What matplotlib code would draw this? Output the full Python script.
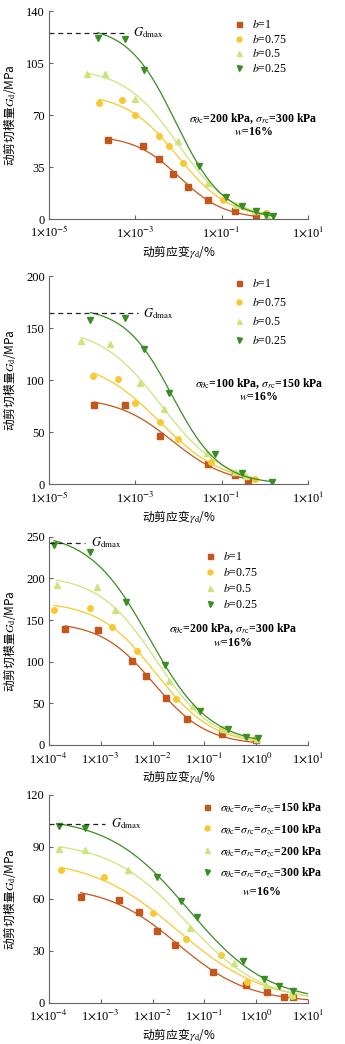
import numpy as np
import matplotlib
matplotlib.use("Agg")
import matplotlib.pyplot as plt

plt.rcParams["font.family"] = ["Liberation Serif", "Noto Sans CJK SC"]
plt.rcParams["mathtext.fontset"] = "stix"
plt.rcParams["font.size"] = 8.5

# ---- panel 1: sigma_theta=200, sigma_r=300 kPa, varying b ----
p1_b1_x = [10**-3.64, 10**-2.83, 10**-2.45, 10**-2.13, 10**-1.77, 10**-1.31, 10**-0.70, 10**-0.20]
p1_b1_g = [53.0, 49.3, 40.5, 30.2, 21.5, 13.0, 5.6, 2.5]
p1_b075_x = [10**-3.84, 10**-3.32, 10**-3.00, 10**-2.46, 10**-2.22, 10**-1.90, 10**-0.96, 10**0.02]
p1_b075_g = [78.4, 80.0, 70.3, 55.8, 49.0, 38.0, 12.8, 4.3]
p1_b05_x = [10**-4.11, 10**-3.70, 10**-3.00, 10**-2.02, 10**-1.31, 10**-0.67, 10**-0.22, 10**0.05]
p1_b05_g = [97.7, 97.7, 80.9, 52.4, 24.2, 9.6, 5.4, 3.0]
p1_b025_x = [10**-3.87, 10**-3.23, 10**-2.80, 10**-1.53, 10**-0.89, 10**-0.54, 10**-0.20, 10**0.03, 10**0.19]
p1_b025_g = [121.9, 121.2, 100.6, 35.8, 15.0, 9.0, 5.2, 2.5, 2.0]

# ---- panel 2: sigma_theta=100, sigma_r=150 kPa, varying b ----
p2_b1_x = [10**-3.96, 10**-3.25, 10**-2.42, 10**-1.32, 10**-0.69, 10**-0.39]
p2_b1_g = [76.2, 76.2, 46.7, 19.5, 8.6, 4.2]
p2_b075_x = [10**-3.97, 10**-3.40, 10**-3.00, 10**-2.42, 10**-2.01, 10**-1.25, 10**-0.23]
p2_b075_g = [104.0, 100.8, 78.0, 59.5, 43.2, 21.1, 5.4]
p2_b05_x = [10**-4.25, 10**-3.58, 10**-2.89, 10**-2.34, 10**-1.35, 10**-0.69, 10**-0.43]
p2_b05_g = [137.3, 134.7, 96.9, 72.6, 30.4, 11.8, 8.3]
p2_b025_x = [10**-4.04, 10**-3.23, 10**-2.80, 10**-2.23, 10**-1.16, 10**-0.53, 10**0.17]
p2_b025_g = [157.8, 159.4, 129.6, 87.4, 28.8, 11.2, 1.9]

# ---- panel 3: sigma_theta=200, sigma_r=300 kPa, varying b ----
p3_b1_x = [10**-3.69, 10**-3.05, 10**-2.39, 10**-2.13, 10**-1.74, 10**-1.33, 10**-0.67, 10**-0.01]
p3_b1_g = [139.2, 138.0, 100.4, 82.4, 56.4, 31.6, 13.6, 6.4]
p3_b075_x = [10**-3.90, 10**-3.21, 10**-2.78, 10**-2.31, 10**-1.54, 10**-0.67, 10**0.00]
p3_b075_g = [162.0, 164.0, 141.2, 113.2, 55.6, 19.2, 8.0]
p3_b05_x = [10**-3.85, 10**-3.08, 10**-2.73, 10**-1.69, 10**-1.22, 10**-0.65, 10**0.02]
p3_b05_g = [192.0, 189.2, 162.0, 77.2, 46.8, 19.2, 7.2]
p3_b025_x = [10**-3.90, 10**-3.21, 10**-2.52, 10**-1.76, 10**-1.08, 10**-0.54, 10**-0.19, 10**0.04]
p3_b025_g = [239.6, 232.0, 171.6, 96.0, 41.2, 19.2, 9.6, 8.0]

# ---- panel 4: isotropic consolidation, varying confining stress ----
p4_s150_x = [10**-3.39, 10**-2.64, 10**-2.26, 10**-1.91, 10**-1.56, 10**-0.84, 10**-0.20, 10**0.20, 10**0.54, 10**0.70]
p4_s150_g = [61.3, 59.3, 52.4, 41.6, 33.3, 17.9, 10.2, 6.0, 3.3, 3.1]
p4_s100_x = [10**-3.77, 10**-2.93, 10**-2.00, 10**-1.36, 10**-0.68, 10**-0.18, 10**0.69]
p4_s100_g = [76.7, 72.8, 52.0, 36.6, 27.4, 11.8, 3.9]
p4_s200_x = [10**-3.81, 10**-3.30, 10**-2.47, 10**-1.28, 10**-0.43, 10**0.18, 10**0.69]
p4_s200_g = [88.8, 88.0, 76.7, 43.4, 23.1, 10.2, 4.4]
p4_s300_x = [10**-3.81, 10**-3.30, 10**-1.92, 10**-1.45, 10**-1.15, 10**-0.26, 10**0.15, 10**0.44, 10**0.70]
p4_s300_g = [102.1, 101.1, 72.8, 59.0, 49.5, 23.9, 13.7, 9.4, 6.5]

b_labels = [r"$b$=1", r"$b$=0.75", r"$b$=0.5", r"$b$=0.25"]
s_labels = [r"$\sigma_{\theta\mathrm{c}}$=$\sigma_{r\mathrm{c}}$=$\sigma_{z\mathrm{c}}$=150 kPa",
            r"$\sigma_{\theta\mathrm{c}}$=$\sigma_{r\mathrm{c}}$=$\sigma_{z\mathrm{c}}$=100 kPa",
            r"$\sigma_{\theta\mathrm{c}}$=$\sigma_{r\mathrm{c}}$=$\sigma_{z\mathrm{c}}$=200 kPa",
            r"$\sigma_{\theta\mathrm{c}}$=$\sigma_{r\mathrm{c}}$=$\sigma_{z\mathrm{c}}$=300 kPa"]
gdmax = [125.2, 164.2, 242.8, 103.2]

colors = ["#C4561C", "#F7C832", "#CBE57C", "#3A8C24"]
markers = ["s", "o", "^", "v"]


def fit_hd(x, g):
    # brute-force Hardin-Drnevich type fit G = Gmax / (1 + (x/xr)^n)
    lx = np.log10(np.asarray(x))
    g = np.asarray(g)
    gm = np.linspace(g.max() * 0.95, g.max() * 1.3, 60)[:, None, None, None]
    lr = np.linspace(-4.5, 0.5, 120)[None, :, None, None]
    n = np.linspace(0.3, 1.6, 60)[None, None, :, None]
    pred = gm / (1 + 10 ** (n * (lx - lr)))
    sse = ((pred - g) ** 2).sum(axis=-1)
    i, j, k = np.unravel_index(np.argmin(sse), sse.shape)
    return gm.ravel()[i], lr.ravel()[j], n.ravel()[k]


def draw_panel(ax, series, labels, x_end=None):
    for (x, g), lab, c, m in zip(series, labels, colors, markers):
        gm, lr, n = fit_hd(x, g)
        xe = x_end if x_end else max(x)
        xs = np.logspace(np.log10(min(x)), np.log10(xe), 200)
        ax.plot(xs, gm / (1 + (xs / 10**lr) ** n), color=c, lw=0.9)
        ax.plot(x, g, m, color=c, ms=4, mec=c, ls="none", label=lab)


def style_axis(ax, xmin, ymax, ystep):
    ax.set_xscale("log")
    ax.set_xlim(xmin, 10)
    ax.set_ylim(0, ymax)
    decades = np.arange(int(np.log10(xmin)), 2, 2 if xmin < 1e-4 else 1)
    ax.set_xticks(10.0 ** decades)
    ax.set_xticklabels([r"1$\times$10$^{%d}$" % d for d in decades])
    ax.xaxis.set_minor_locator(matplotlib.ticker.NullLocator())
    ax.set_yticks(np.arange(0, ymax + 1, ystep))
    for s in ["top", "right"]:
        ax.spines[s].set_visible(False)
    for s in ["left", "bottom"]:
        ax.spines[s].set_color("#666666")
        ax.spines[s].set_linewidth(0.8)
    ax.tick_params(direction="in", length=3, width=0.8, color="#666666", labelsize=9)
    ax.tick_params(axis="x", pad=4)
    ax.tick_params(axis="y", pad=3)
    ax.set_ylabel(r"动剪切模量$G_{\mathrm{d}}$/MPa", fontsize=8.5, labelpad=6,
                  fontfamily="Noto Sans CJK SC")
    ax.set_xlabel(r"动剪应变$\gamma_{\mathrm{d}}$/%", fontsize=8.5, labelpad=2,
                  fontfamily="Noto Sans CJK SC")


def gdmax_line(ax, xmin, x_stop, value):
    ax.plot([xmin, x_stop], [value, value], ls="--", color="#222222", lw=0.9, dashes=(4, 3))
    ax.text(x_stop * 1.3, value, r"$G_{\mathrm{dmax}}$", fontsize=9, va="center", ha="left")


def add_legend(ax, x0, y0, spacing, bold=False):
    prop = {"size": 8.5, "weight": "bold" if bold else "normal"}
    ax.legend(loc="upper left", bbox_to_anchor=(x0, y0), frameon=False, prop=prop,
              borderpad=0, borderaxespad=0, handlelength=1.0, handletextpad=0.6,
              labelspacing=spacing, markerscale=0.9)


fig = plt.figure(figsize=(3.45, 10.44), dpi=100)
rects = [[0.142, 0.7902, 0.751, 0.1992],
         [0.142, 0.5361, 0.751, 0.1995],
         [0.142, 0.2864, 0.751, 0.1995],
         [0.142, 0.0396, 0.751, 0.1990]]
axes = [fig.add_axes(r) for r in rects]

# panel 1
ax = axes[0]
draw_panel(ax, [(p1_b1_x, p1_b1_g), (p1_b075_x, p1_b075_g),
                (p1_b05_x, p1_b05_g), (p1_b025_x, p1_b025_g)], b_labels)
style_axis(ax, 1e-5, 140, 35)
gdmax_line(ax, 1e-5, 10**-3.17, gdmax[0])
add_legend(ax, 0.71, 0.962, 0.23)
ax.text(0.79, 0.485, r"$\sigma_{\theta\mathrm{c}}$=200 kPa, $\sigma_{r\mathrm{c}}$=300 kPa",
        transform=ax.transAxes, ha="center", va="center", fontsize=8.5, fontweight="bold")
ax.text(0.79, 0.42, r"$w$=16%", transform=ax.transAxes, ha="center", va="center",
        fontsize=8.5, fontweight="bold")

# panel 2
ax = axes[1]
draw_panel(ax, [(p2_b1_x, p2_b1_g), (p2_b075_x, p2_b075_g),
                (p2_b05_x, p2_b05_g), (p2_b025_x, p2_b025_g)], b_labels)
style_axis(ax, 1e-5, 200, 50)
gdmax_line(ax, 1e-5, 10**-2.93, gdmax[1])
add_legend(ax, 0.71, 0.99, 0.58)
ax.text(0.81, 0.485, r"$\sigma_{\theta\mathrm{c}}$=100 kPa, $\sigma_{r\mathrm{c}}$=150 kPa",
        transform=ax.transAxes, ha="center", va="center", fontsize=8.5, fontweight="bold")
ax.text(0.81, 0.42, r"$w$=16%", transform=ax.transAxes, ha="center", va="center",
        fontsize=8.5, fontweight="bold")

# panel 3
ax = axes[2]
draw_panel(ax, [(p3_b1_x, p3_b1_g), (p3_b075_x, p3_b075_g),
                (p3_b05_x, p3_b05_g), (p3_b025_x, p3_b025_g)], b_labels)
style_axis(ax, 1e-4, 250, 50)
gdmax_line(ax, 1e-4, 10**-3.3, gdmax[2])
add_legend(ax, 0.598, 0.933, 0.35)
ax.text(0.71, 0.56, r"$\sigma_{\theta\mathrm{c}}$=200 kPa, $\sigma_{r\mathrm{c}}$=300 kPa",
        transform=ax.transAxes, ha="center", va="center", fontsize=8.5, fontweight="bold")
ax.text(0.71, 0.49, r"$w$=16%", transform=ax.transAxes, ha="center", va="center",
        fontsize=8.5, fontweight="bold")

# panel 4
ax = axes[3]
draw_panel(ax, [(p4_s150_x, p4_s150_g), (p4_s100_x, p4_s100_g),
                (p4_s200_x, p4_s200_g), (p4_s300_x, p4_s300_g)], s_labels, x_end=10)
style_axis(ax, 1e-4, 120, 30)
gdmax_line(ax, 1e-4, 10**-2.92, gdmax[3])
add_legend(ax, 0.587, 0.976, 0.58, bold=True)
ax.text(0.82, 0.535, r"$w$=16%", transform=ax.transAxes, ha="center", va="center",
        fontsize=8.5, fontweight="bold")

fig.savefig("out.png", dpi=100)
